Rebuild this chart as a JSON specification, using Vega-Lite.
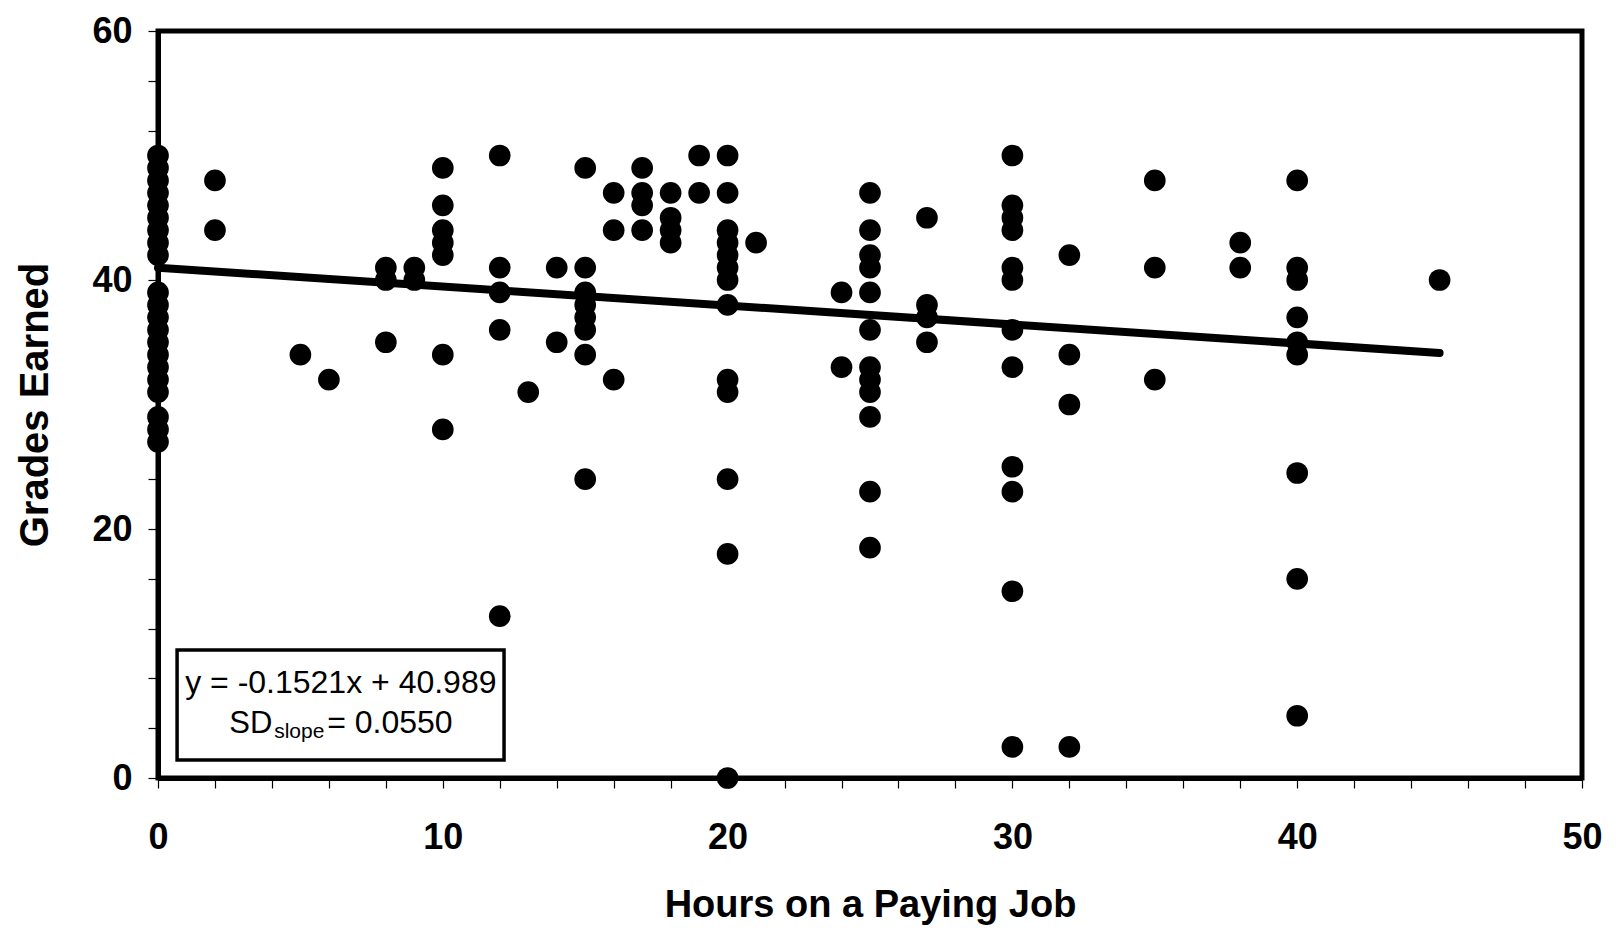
{
  "$schema": "https://vega.github.io/schema/vega-lite/v6.json",
  "width": 1424,
  "height": 747,
  "autosize": {"type": "none"},
  "padding": {"left": 158, "top": 31, "right": 34, "bottom": 158},
  "background": "white",
  "config": {
    "view": {"stroke": "black", "strokeWidth": 5},
    "font": "Liberation Sans",
    "axis": {
      "domainColor": "black",
      "domainWidth": 5,
      "tickColor": "black",
      "tickWidth": 1.2,
      "tickSize": 10,
      "grid": false,
      "labelFont": "Liberation Sans",
      "labelFontWeight": "bold",
      "labelFontSize": 36,
      "labelColor": "black",
      "titleFont": "Liberation Sans",
      "titleFontWeight": "bold",
      "titleColor": "black"
    }
  },
  "data": {
    "values": [
      {"hours": 0, "grade": 50}, {"hours": 0, "grade": 49}, {"hours": 0, "grade": 48}, {"hours": 0, "grade": 47},
      {"hours": 0, "grade": 46}, {"hours": 0, "grade": 45}, {"hours": 0, "grade": 44}, {"hours": 0, "grade": 43},
      {"hours": 0, "grade": 42}, {"hours": 0, "grade": 39}, {"hours": 0, "grade": 38}, {"hours": 0, "grade": 37},
      {"hours": 0, "grade": 36}, {"hours": 0, "grade": 35}, {"hours": 0, "grade": 34}, {"hours": 0, "grade": 33},
      {"hours": 0, "grade": 32}, {"hours": 0, "grade": 31}, {"hours": 0, "grade": 29}, {"hours": 0, "grade": 28},
      {"hours": 0, "grade": 27},
      {"hours": 2, "grade": 48}, {"hours": 2, "grade": 44},
      {"hours": 5, "grade": 34},
      {"hours": 6, "grade": 32},
      {"hours": 8, "grade": 41}, {"hours": 8, "grade": 40}, {"hours": 8, "grade": 35},
      {"hours": 9, "grade": 41}, {"hours": 9, "grade": 40},
      {"hours": 10, "grade": 49}, {"hours": 10, "grade": 46}, {"hours": 10, "grade": 44}, {"hours": 10, "grade": 43},
      {"hours": 10, "grade": 42}, {"hours": 10, "grade": 34}, {"hours": 10, "grade": 28},
      {"hours": 12, "grade": 50}, {"hours": 12, "grade": 41}, {"hours": 12, "grade": 39}, {"hours": 12, "grade": 36},
      {"hours": 12, "grade": 13},
      {"hours": 13, "grade": 31},
      {"hours": 14, "grade": 41}, {"hours": 14, "grade": 35},
      {"hours": 15, "grade": 49}, {"hours": 15, "grade": 41}, {"hours": 15, "grade": 39}, {"hours": 15, "grade": 38},
      {"hours": 15, "grade": 37}, {"hours": 15, "grade": 36}, {"hours": 15, "grade": 34}, {"hours": 15, "grade": 24},
      {"hours": 16, "grade": 47}, {"hours": 16, "grade": 44}, {"hours": 16, "grade": 32},
      {"hours": 17, "grade": 49}, {"hours": 17, "grade": 47}, {"hours": 17, "grade": 46}, {"hours": 17, "grade": 44},
      {"hours": 18, "grade": 47}, {"hours": 18, "grade": 45}, {"hours": 18, "grade": 44}, {"hours": 18, "grade": 43},
      {"hours": 19, "grade": 50}, {"hours": 19, "grade": 47},
      {"hours": 20, "grade": 50}, {"hours": 20, "grade": 47}, {"hours": 20, "grade": 44}, {"hours": 20, "grade": 43},
      {"hours": 20, "grade": 42}, {"hours": 20, "grade": 41}, {"hours": 20, "grade": 40}, {"hours": 20, "grade": 38},
      {"hours": 20, "grade": 32}, {"hours": 20, "grade": 31}, {"hours": 20, "grade": 24}, {"hours": 20, "grade": 18},
      {"hours": 20, "grade": 0},
      {"hours": 21, "grade": 43},
      {"hours": 24, "grade": 39}, {"hours": 24, "grade": 33},
      {"hours": 25, "grade": 47}, {"hours": 25, "grade": 44}, {"hours": 25, "grade": 42}, {"hours": 25, "grade": 41},
      {"hours": 25, "grade": 39}, {"hours": 25, "grade": 36}, {"hours": 25, "grade": 33}, {"hours": 25, "grade": 32},
      {"hours": 25, "grade": 31}, {"hours": 25, "grade": 29}, {"hours": 25, "grade": 23}, {"hours": 25, "grade": 18.5},
      {"hours": 27, "grade": 45}, {"hours": 27, "grade": 38}, {"hours": 27, "grade": 37}, {"hours": 27, "grade": 35},
      {"hours": 30, "grade": 50}, {"hours": 30, "grade": 46}, {"hours": 30, "grade": 45}, {"hours": 30, "grade": 44},
      {"hours": 30, "grade": 41}, {"hours": 30, "grade": 40}, {"hours": 30, "grade": 36}, {"hours": 30, "grade": 33},
      {"hours": 30, "grade": 25}, {"hours": 30, "grade": 23}, {"hours": 30, "grade": 15}, {"hours": 30, "grade": 2.5},
      {"hours": 32, "grade": 42}, {"hours": 32, "grade": 34}, {"hours": 32, "grade": 30}, {"hours": 32, "grade": 2.5},
      {"hours": 35, "grade": 48}, {"hours": 35, "grade": 41}, {"hours": 35, "grade": 32},
      {"hours": 38, "grade": 43}, {"hours": 38, "grade": 41},
      {"hours": 40, "grade": 48}, {"hours": 40, "grade": 41}, {"hours": 40, "grade": 40}, {"hours": 40, "grade": 37},
      {"hours": 40, "grade": 35}, {"hours": 40, "grade": 34}, {"hours": 40, "grade": 24.5}, {"hours": 40, "grade": 16},
      {"hours": 40, "grade": 5},
      {"hours": 45, "grade": 40}
    ]
  },
  "layer": [
    {
      "mark": {"type": "circle", "color": "black", "opacity": 1, "size": 470},
      "encoding": {
        "x": {
          "field": "hours", "type": "quantitative",
          "scale": {"domain": [0, 50], "nice": false, "zero": false},
          "axis": {
            "title": "Hours on a Paying Job",
            "titleFontSize": 38,
            "titlePadding": 31,
            "values": [0, 2, 4, 6, 8, 10, 12, 14, 16, 18, 20, 22, 24, 26, 28, 30, 32, 34, 36, 38, 40, 42, 44, 46, 48, 50],
            "labelExpr": "datum.value % 10 === 0 ? datum.label : ''",
            "labelPadding": 32,
            "labelFlush": false,
            "labelOverlap": false
          }
        },
        "y": {
          "field": "grade", "type": "quantitative",
          "scale": {"domain": [0, 60], "nice": false, "zero": false},
          "axis": {
            "title": "Grades Earned",
            "titleFontSize": 40,
            "titlePadding": 36,
            "values": [0, 2, 4, 6, 8, 10, 12, 14, 16, 18, 20, 22, 24, 26, 28, 30, 32, 34, 36, 38, 40, 42, 44, 46, 48, 50, 52, 54, 56, 58, 60],
            "labelExpr": "datum.value % 10 === 0 ? datum.label : ''",
            "labelPadding": 16,
            "labelFlush": false,
            "labelOverlap": false
          }
        }
      }
    },
    {
      "data": {"values": [{"hours": 0, "grade": 40.989}, {"hours": 45, "grade": 34.144}]},
      "mark": {"type": "line", "color": "black", "strokeWidth": 8, "strokeCap": "round"},
      "encoding": {
        "x": {"field": "hours", "type": "quantitative"},
        "y": {"field": "grade", "type": "quantitative"}
      }
    },
    {
      "data": {"values": [{"box": "equation"}]},
      "mark": {"type": "rect", "fill": "white", "stroke": "black", "strokeWidth": 3.5},
      "encoding": {
        "x": {"datum": 0.67, "type": "quantitative"},
        "x2": {"datum": 12.15},
        "y": {"datum": 10.28, "type": "quantitative"},
        "y2": {"datum": 1.45}
      }
    },
    {
      "data": {"values": [{"label": "y = -0.1521x + 40.989"}]},
      "mark": {"type": "text", "font": "Liberation Sans", "fontSize": 32, "align": "center", "baseline": "alphabetic", "color": "black"},
      "encoding": {
        "text": {"field": "label"},
        "x": {"datum": 6.42, "type": "quantitative"},
        "y": {"datum": 6.83, "type": "quantitative"}
      }
    },
    {
      "data": {"values": [{"label": "SD"}]},
      "mark": {"type": "text", "font": "Liberation Sans", "fontSize": 31, "align": "left", "baseline": "alphabetic", "color": "black"},
      "encoding": {
        "text": {"field": "label"},
        "x": {"datum": 2.5, "type": "quantitative"},
        "y": {"datum": 3.61, "type": "quantitative"}
      }
    },
    {
      "data": {"values": [{"label": "slope"}]},
      "mark": {"type": "text", "font": "Liberation Sans", "fontSize": 21, "align": "left", "baseline": "alphabetic", "color": "black"},
      "encoding": {
        "text": {"field": "label"},
        "x": {"datum": 4.08, "type": "quantitative"},
        "y": {"datum": 3.21, "type": "quantitative"}
      }
    },
    {
      "data": {"values": [{"label": "= 0.0550"}]},
      "mark": {"type": "text", "font": "Liberation Sans", "fontSize": 32, "align": "left", "baseline": "alphabetic", "color": "black"},
      "encoding": {
        "text": {"field": "label"},
        "x": {"datum": 5.94, "type": "quantitative"},
        "y": {"datum": 3.61, "type": "quantitative"}
      }
    }
  ]
}
